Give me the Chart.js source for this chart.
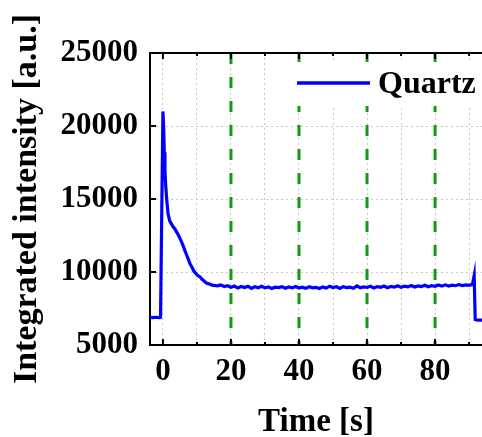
<!DOCTYPE html>
<html lang="en">
<head>
    <meta charset="UTF-8">
    <title>Quartz integrated intensity</title>
    <script src="https://cdn.jsdelivr.net/npm/chart.js"></script>
    <style>
        body {
            margin: 0;
            background: #ffffff;
        }

        .chart-box {
            position: relative;
            width: 482px;
            height: 437px;
        }
    </style>
</head>
<body>
    <div class="chart-box">
        <canvas id="quartzChart"></canvas>
    </div>

    <script>
        // values
        const time = [
            -3.8, -3, -2, -1, -0.7, 0, 0.2, 0.4, 0.6, 0.8, 1.1, 1.5, 2, 2.5, 3, 3.5, 4, 4.5, 5, 5.5,
            6, 6.5, 7, 7.5, 8, 8.5, 9, 9.5, 10, 10.5, 11, 11.5, 12, 12.5, 13, 13.5, 14, 14.5,
            15, 16, 17, 18, 19, 20, 21, 22, 23, 24, 25, 26, 27, 28, 29, 30, 31, 32, 33, 34,
            35, 36, 37, 38, 39, 40, 41, 42, 43, 44, 45, 46, 47, 48, 49, 50, 51, 52, 53, 54,
            55, 56, 57, 58, 59, 60, 61, 62, 63, 64, 65, 66, 67, 68, 69, 70, 71, 72, 73, 74,
            75, 76, 77, 78, 79, 80, 81, 82, 83, 84, 85, 86, 87, 88, 89, 90, 91, 91.5, 91.8,
            92.5, 93.8
        ];
        const intensity = [
            6890, 6870, 6900, 6880, 6900, 21000, 20000, 18200, 17000, 16000, 15000, 14000, 13500, 13300, 13100, 12950, 12750, 12550, 12300, 12050,
            11750, 11450, 11150, 10850, 10550, 10350, 10100, 9950, 9800, 9720, 9650, 9500, 9400, 9300, 9220, 9200, 9150, 9100,
            9080, 9050, 9120, 9010, 9060, 8950, 9040, 8900, 9010, 8940, 9030, 8880, 8990, 8920, 9020, 8910, 8980, 8870, 8960, 8930,
            9000, 8890, 8970, 8910, 9010, 8900, 8960, 8880, 8990, 8920, 8950, 8870, 8980, 8900, 9030, 8940, 8990, 8880, 9000, 8930,
            8960, 8890, 9050, 8920, 8980, 8940, 9020, 8910, 9000, 8950, 9040, 8920, 9010, 8960, 9060, 8950, 9030, 8980, 9080, 8970,
            9050, 9000, 9090, 8990, 9060, 9020, 9110, 9030, 9120, 9040, 9100, 9060, 9140, 9070, 9120, 9090, 9150, 9750, 6750,
            6700, 6700
        ];
        const markerTimes = [20, 40, 60, 80];
        const xRange = [-3.8, 93.8];
        const yRange = [5000, 25000];
        const xLabelTicks = [0, 20, 40, 60, 80];
        const yLabelTicks = [5000, 10000, 15000, 20000, 25000];
        const seriesLabel = 'Quartz';

        const serif = '"Liberation Serif", "Times New Roman", serif';
        const blue = '#0000ff';
        const green = '#139a13';

        const markerSets = markerTimes.map(t => ({
            label: 'marker ' + t,
            data: [{ x: t, y: yRange[1] }, { x: t, y: yRange[0] }],
            borderColor: green,
            borderWidth: 3,
            borderDash: [11, 13],
            pointRadius: 0,
            fill: false
        }));

        // inward ticks, top axis and the in-plot legend
        const frame = {
            id: 'frame',
            afterDatasetsDraw(chart) {
                const { ctx, chartArea: a } = chart;
                const ds = chart.data.datasets[0];
                ctx.save();
                ctx.fillStyle = '#ffffff';
                ctx.fillRect(296, 62, a.right - 296, 44);
                ctx.strokeStyle = ds.borderColor;
                ctx.lineWidth = 3.5;
                ctx.beginPath();
                ctx.moveTo(297, 83);
                ctx.lineTo(370, 83);
                ctx.stroke();
                ctx.fillStyle = '#000000';
                ctx.font = 'bold 32px ' + serif;
                ctx.textBaseline = 'middle';
                ctx.fillText(ds.label, 378, 85);
                ctx.restore();
            },
            afterDraw(chart) {
                const { ctx, chartArea: a, scales: { x, y } } = chart;
                ctx.save();
                ctx.strokeStyle = '#000000';
                ctx.lineWidth = 2;
                ctx.beginPath();
                ctx.moveTo(a.left, a.top);
                ctx.lineTo(a.right, a.top);
                x.ticks.forEach(t => {
                    const px = x.getPixelForValue(t.value);
                    const len = xLabelTicks.includes(t.value) ? 6 : 3;
                    ctx.moveTo(px, a.bottom);
                    ctx.lineTo(px, a.bottom - len);
                    ctx.moveTo(px, a.top);
                    ctx.lineTo(px, a.top + len);
                });
                y.ticks.forEach(t => {
                    const py = y.getPixelForValue(t.value);
                    const len = yLabelTicks.includes(t.value) ? 6 : 3;
                    ctx.moveTo(a.left, py);
                    ctx.lineTo(a.left + len, py);
                });
                ctx.stroke();
                ctx.restore();
            }
        };

        new Chart(document.getElementById('quartzChart'), {
            type: 'line',
            data: {
                datasets: [{
                    label: seriesLabel,
                    data: time.map((t, i) => ({ x: t, y: intensity[i] })),
                    borderColor: blue,
                    borderWidth: 3.2,
                    pointRadius: 0,
                    tension: 0,
                    fill: false
                }, ...markerSets]
            },
            options: {
                responsive: true,
                maintainAspectRatio: false,
                animation: false,
                layout: { padding: { top: 53, right: 0, left: 0, bottom: 0 } },
                plugins: {
                    legend: { display: false },
                    tooltip: { enabled: false }
                },
                scales: {
                    x: {
                        type: 'linear',
                        min: xRange[0],
                        max: xRange[1],
                        afterFit: s => { s.height = 92; },
                        ticks: {
                            stepSize: 10,
                            includeBounds: false,
                            autoSkip: false,
                            maxRotation: 0,
                            padding: 8,
                            color: '#000000',
                            font: { family: serif, size: 31, weight: 'bold' },
                            callback: v => xLabelTicks.includes(v) ? String(v) : ''
                        },
                        grid: { color: '#c8c8c8', lineWidth: 1, drawTicks: false },
                        border: { color: '#000000', width: 2, dash: [2, 3] },
                        title: {
                            display: true,
                            text: 'Time [s]',
                            color: '#000000',
                            font: { family: serif, size: 33, weight: 'bold', lineHeight: 1 },
                            padding: { top: 0, bottom: -2 }
                        }
                    },
                    y: {
                        min: yRange[0],
                        max: yRange[1],
                        afterFit: s => { s.width = 150; },
                        ticks: {
                            stepSize: 2500,
                            padding: 12,
                            color: '#000000',
                            font: { family: serif, size: 31, weight: 'bold' },
                            callback: v => yLabelTicks.includes(v) ? String(v) : ''
                        },
                        grid: { color: '#c8c8c8', lineWidth: 1, drawTicks: false },
                        border: { color: '#000000', width: 2, dash: [2, 3] },
                        title: {
                            display: true,
                            text: 'Integrated intensity [a.u.]',
                            color: '#000000',
                            font: { family: serif, size: 34, weight: 'bold', lineHeight: 1 },
                            padding: { top: 10, bottom: 0 }
                        }
                    }
                }
            },
            plugins: [frame]
        });
    </script>
</body>
</html>
